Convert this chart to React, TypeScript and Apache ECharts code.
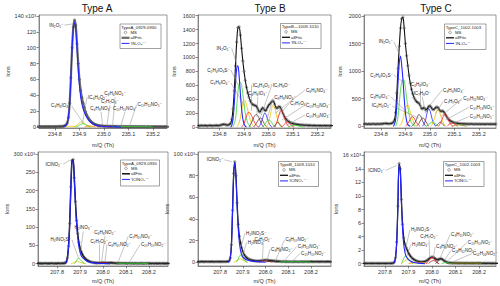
import React, { useEffect, useRef } from "react";
import * as echarts from "echarts";

const FONT = "'Liberation Sans', Arial, 'DejaVu Sans', sans-serif";
const BLUE = "#2424ff";
const GREEN = "#2fd62f";
const YELLOW = "#f2c200";
const RED = "#ff2020";
const ORANGE = "#ff8a00";
const DARK = "#3a3a3a";
const BROWN = "#8a2a2a";
const OLIVE = "#8c8c00";

// m/Q sampling of the measured spectra (Th)
const MZ_STEP = 0.005;
const TOP_START = 234.71;
const BOT_START = 207.7;

// ---------- measured spectra (MS), one value per m/Q sample ----------
const topA_ms = [
  0.4,0.5,0.3,0.4,0.5,0.3,0.4,0.5,0.4,0.3,
  0.5,0.4,0.4,0.5,0.3,0.4,0.5,0.4,0.4,0.5,
  0.6,0.5,0.7,0.6,0.8,1.0,1.5,2.5,5,12,
  30,62,100,126,135,128,105,80,60,46,
  37,30,24,19,15,12,9.5,7.5,6,4.8,
  3.8,3,2.5,2,1.7,1.5,1.3,1.2,1.1,1.0,
  0.9,0.9,0.8,0.8,0.7,0.8,0.7,0.6,0.7,0.6,
  0.6,0.5,0.6,0.5,0.5,0.6,0.5,0.4,0.5,0.4,
  0.5,0.4,0.4,0.5,0.4,0.3,0.4,0.4,0.3,0.4,
  0.3,0.4,0.3,0.3,0.4,0.3,0.3,0.4,0.3,0.3,
  0.4,0.3,0.3,0.3,0.4,0.3,0.3,0.3,0.4,0.3,
  0.3,0.3,0.3,
];
const topB_ms = [
  18,22,15,25,20,18,24,20,16,22,
  25,20,18,22,20,25,22,20,24,28,
  32,38,40,32,28,30,35,55,110,260,
  520,880,1220,1430,1440,1320,1130,950,800,670,
  570,490,430,380,345,325,315,310,300,270,
  230,215,250,275,265,235,240,280,310,330,
  350,375,370,330,280,270,290,295,270,230,
  185,150,120,100,85,72,62,55,50,45,
  42,38,36,34,30,32,28,27,25,28,
  24,22,25,22,20,24,21,20,22,19,
  21,20,18,22,20,19,21,18,20,19,
  21,18,20,
];
const topC_ms = [
  40,45,35,42,38,45,40,36,44,40,
  38,42,45,40,38,44,42,40,45,42,
  48,50,55,48,45,48,50,55,70,110,
  250,600,1050,1450,1780,1950,1980,1780,1500,1280,
  1100,920,780,670,590,525,480,450,430,420,
  380,330,315,340,320,290,320,360,370,345,
  310,300,320,345,350,330,290,270,280,270,
  240,200,165,135,110,95,82,72,65,60,
  56,52,50,48,46,44,45,42,44,40,
  42,40,44,40,38,42,40,38,42,40,
  38,41,40,37,40,42,38,40,41,38,
  40,39,40,
];
const botA_ms = [
  0.8,0.9,0.7,0.8,1.0,0.8,0.9,0.7,0.8,0.9,
  1.0,0.8,0.7,0.9,0.8,1.0,0.9,0.8,0.7,0.9,
  0.8,1.0,0.9,0.8,0.9,1.0,1.2,2,5,16,
  48,110,210,282,285,235,170,118,82,58,
  43,33,26,20,16,12.5,10,8,6.5,5.2,
  4.3,3.6,3.1,2.7,2.4,2.2,2.2,2.4,2.6,2.8,
  2.9,2.8,2.6,2.3,2.2,2.3,2.5,2.6,2.4,2.0,
  1.7,1.5,1.3,1.2,1.1,1.0,1.0,0.9,1.1,0.9,
  1.0,0.8,0.9,1.0,0.8,0.9,0.9,0.8,1.0,0.9,
  0.8,0.9,0.8,1.0,0.9,0.8,0.8,0.9,0.8,1.0,
  0.8,0.9,0.8,0.9,0.8,0.7,0.9,0.8,0.8,0.9,
  0.7,0.8,0.9,0.8,0.7,0.8,0.9,0.8,0.8,
];
const botB_ms = [
  0.5,0.6,0.4,0.5,0.6,0.5,0.4,0.6,0.5,0.5,
  0.6,0.4,0.5,0.6,0.5,0.4,0.5,0.6,0.5,0.5,
  0.4,0.6,0.5,0.5,0.6,0.5,0.6,0.7,1.2,4,
  16,48,82,93,80,55,35,24,18,13.5,
  10,7.5,5.8,4.6,3.7,3.0,2.5,2.1,1.8,1.6,
  1.4,1.3,1.2,1.1,1.1,1.2,1.3,1.5,1.7,1.8,
  1.9,1.9,1.8,1.6,1.5,1.5,1.4,1.3,1.1,1.0,
  0.9,0.8,0.7,0.7,0.6,0.6,0.7,0.5,0.6,0.5,
  0.6,0.5,0.5,0.6,0.4,0.5,0.6,0.5,0.5,0.4,
  0.5,0.6,0.5,0.4,0.5,0.5,0.6,0.5,0.4,0.5,
  0.5,0.6,0.4,0.5,0.5,0.6,0.5,0.4,0.5,0.5,
  0.6,0.5,0.4,0.5,0.5,0.6,0.5,0.4,0.5,
];
const botC_ms = [
  0.05,0.06,0.04,0.05,0.06,0.05,0.04,0.05,0.06,0.05,
  0.05,0.04,0.06,0.05,0.05,0.04,0.06,0.05,0.05,0.06,
  0.04,0.05,0.05,0.06,0.05,0.06,0.07,0.1,0.25,0.9,
  3.2,8.5,14.8,14.0,9.5,5.8,3.8,2.9,2.4,2.0,
  1.6,1.3,1.05,0.85,0.7,0.58,0.48,0.4,0.34,0.3,
  0.28,0.27,0.28,0.3,0.34,0.4,0.5,0.65,0.8,0.92,
  0.98,0.95,0.85,0.7,0.6,0.6,0.68,0.74,0.72,0.62,
  0.48,0.36,0.27,0.2,0.16,0.13,0.11,0.09,0.1,0.08,
  0.09,0.08,0.1,0.07,0.08,0.09,0.07,0.08,0.06,0.08,
  0.07,0.08,0.06,0.07,0.08,0.06,0.07,0.06,0.08,0.07,
  0.06,0.07,0.06,0.05,0.07,0.06,0.05,0.06,0.07,0.05,
  0.06,0.05,0.06,0.05,0.06,0.05,0.05,0.06,0.05,
];

// ---------- main fitted peaks (blue) [m/Q, ions] ----------
const topA_main = [[234.835,0],[234.84,1.2],[234.845,2.3],[234.85,4.8],[234.855,11.7],[234.86,29.5],[234.865,61],[234.87,99],[234.875,124],[234.88,132],[234.885,123],[234.89,99],[234.895,73],[234.9,52],[234.905,38],[234.91,29],[234.915,23],[234.92,18.5],[234.925,15],[234.93,12],[234.94,7.8],[234.95,5],[234.96,3.2],[234.97,2],[234.98,1.3],[234.99,0.9],[235.01,0.5],[235.04,0.2],[235.07,0]];
const topB_main = [[234.845,0],[234.85,25],[234.855,120],[234.86,330],[234.865,620],[234.87,840],[234.875,880],[234.88,730],[234.885,480],[234.89,260],[234.895,115],[234.9,45],[234.905,12],[234.91,0]];
const topC_main = [[234.85,0],[234.855,30],[234.86,120],[234.865,380],[234.87,800],[234.875,1150],[234.88,1270],[234.885,1100],[234.89,850],[234.895,520],[234.9,250],[234.905,100],[234.91,30],[234.92,0]];
const botA_main = [[207.835,0],[207.84,4],[207.845,15],[207.85,47],[207.855,108],[207.86,207],[207.865,278],[207.87,280],[207.875,229],[207.88,163],[207.885,110],[207.89,72],[207.895,47],[207.9,32],[207.905,23],[207.91,17],[207.92,11],[207.93,7],[207.94,4.5],[207.95,3],[207.97,1.5],[208.0,0.5],[208.03,0]];
const botB_main = [[207.835,0],[207.84,1],[207.845,3.8],[207.85,15.5],[207.855,47],[207.86,81],[207.865,92],[207.87,78],[207.875,52],[207.88,31],[207.885,18],[207.89,11],[207.895,7],[207.9,5],[207.91,3],[207.92,2],[207.94,1],[207.97,0.4],[208.0,0]];
const botC_main = [[207.835,0],[207.84,0.22],[207.845,0.85],[207.85,3.1],[207.855,8.4],[207.86,14.6],[207.865,13.6],[207.87,9],[207.875,5.1],[207.88,2.8],[207.885,1.7],[207.89,1.1],[207.9,0.6],[207.91,0.35],[207.92,0.2],[207.94,0.08],[207.97,0]];

// ---------- other fitted components [m/Q, ions] ----------
const topA_comps = [
  [[234.875,0],[234.885,1.2],[234.895,3.8],[234.905,6.2],[234.91,6.5],[234.92,4.6],[234.93,2],[234.94,0.6],[234.95,0]],
  [[234.885,0],[234.895,1.2],[234.905,3.2],[234.915,4.2],[234.925,2.8],[234.935,1],[234.945,0]],
  [[234.92,0],[234.93,0.9],[234.94,1.6],[234.95,1.0],[234.96,0.3],[234.965,0]],
  [[234.975,0],[234.99,0.7],[235.005,0.9],[235.02,0.4],[235.035,0]],
  [[235.035,0],[235.05,0.5],[235.08,0.6],[235.12,0.55],[235.16,0.45],[235.185,0.2],[235.2,0]],
  [[234.845,0],[234.855,0.6],[234.865,1.0],[234.875,0.6],[234.885,0]],
];
const topA_colors = [YELLOW, GREEN, ORANGE, RED, GREEN, YELLOW];

const topB_comps = [
  [[234.855,0],[234.865,120],[234.87,300],[234.875,500],[234.88,620],[234.885,640],[234.89,600],[234.895,470],[234.9,330],[234.905,200],[234.915,60],[234.925,10],[234.93,0]],
  [[234.87,0],[234.88,60],[234.89,230],[234.9,380],[234.905,375],[234.91,320],[234.92,170],[234.93,60],[234.94,0]],
  [[234.89,0],[234.9,50],[234.91,160],[234.918,210],[234.925,200],[234.935,130],[234.945,50],[234.955,10],[234.96,0]],
  [[234.92,0],[234.93,60],[234.94,140],[234.95,180],[234.96,140],[234.97,50],[234.98,0]],
  [[234.94,0],[234.95,50],[234.96,110],[234.968,130],[234.975,100],[234.985,30],[234.995,0]],
  [[234.96,0],[234.97,60],[234.978,150],[234.985,200],[234.992,160],[235.0,70],[235.01,10],[235.015,0]],
  [[234.975,0],[234.985,40],[234.995,90],[235.003,100],[235.012,70],[235.02,25],[235.03,0]],
  [[234.99,0],[235.0,60],[235.01,220],[235.018,310],[235.025,280],[235.035,130],[235.045,30],[235.05,0]],
  [[235.02,0],[235.03,40],[235.038,70],[235.046,40],[235.055,0]],
  [[235.025,0],[235.035,80],[235.045,200],[235.052,240],[235.06,190],[235.07,80],[235.08,15],[235.085,0]],
  [[235.055,0],[235.065,40],[235.075,75],[235.085,50],[235.095,15],[235.105,0]],
  [[235.08,0],[235.095,20],[235.11,25],[235.125,12],[235.14,0]],
];
const topB_colors = [GREEN, YELLOW, RED, DARK, BROWN, BLUE, GREEN, YELLOW, DARK, RED, RED, GREEN];

const topC_comps = [
  [[234.86,0],[234.865,60],[234.87,180],[234.875,420],[234.88,650],[234.885,800],[234.89,850],[234.895,820],[234.9,700],[234.905,520],[234.91,350],[234.92,120],[234.93,30],[234.94,0]],
  [[234.875,0],[234.885,60],[234.895,220],[234.905,380],[234.91,390],[234.915,340],[234.925,180],[234.935,60],[234.945,0]],
  [[234.9,0],[234.91,50],[234.92,130],[234.928,175],[234.935,150],[234.945,70],[234.955,15],[234.96,0]],
  [[234.925,0],[234.935,40],[234.945,120],[234.955,210],[234.962,190],[234.97,100],[234.98,20],[234.985,0]],
  [[234.945,0],[234.955,50],[234.965,130],[234.972,150],[234.98,110],[234.99,40],[234.995,0]],
  [[234.97,0],[234.98,80],[234.988,230],[234.995,320],[235.002,260],[235.01,120],[235.02,20],[235.025,0]],
  [[234.985,0],[234.995,30],[235.005,70],[235.012,80],[235.02,55],[235.03,15],[235.035,0]],
  [[235.005,0],[235.015,90],[235.025,240],[235.032,300],[235.04,250],[235.05,110],[235.06,20],[235.065,0]],
  [[235.025,0],[235.035,50],[235.043,80],[235.05,50],[235.06,0]],
  [[235.035,0],[235.045,70],[235.055,180],[235.062,230],[235.07,180],[235.08,70],[235.09,10],[235.095,0]],
  [[235.07,0],[235.08,40],[235.09,60],[235.1,40],[235.11,10],[235.115,0]],
  [[235.09,0],[235.105,20],[235.12,25],[235.135,15],[235.15,0]],
];
const topC_colors = [GREEN, YELLOW, RED, DARK, BROWN, BLUE, GREEN, YELLOW, DARK, RED, RED, OLIVE];

const botA_comps = [
  [[207.86,0],[207.87,2],[207.88,5],[207.89,6],[207.9,4],[207.91,1.5],[207.92,0]],
  [[207.875,0],[207.882,5],[207.888,12],[207.893,15],[207.9,12],[207.908,6],[207.918,1.5],[207.925,0]],
  [[207.97,0],[207.985,1.2],[208.0,2.0],[208.015,1.2],[208.03,0]],
  [[208.01,0],[208.025,1.2],[208.035,1.6],[208.045,1.0],[208.06,0]],
  [[208.06,0],[208.08,0.8],[208.12,1.0],[208.16,0.8],[208.19,0.4],[208.2,0]],
];
const botA_colors = [YELLOW, GREEN, RED, DARK, GREEN];

const botB_comps = [
  [[207.86,0],[207.87,1],[207.88,2.5],[207.89,3],[207.9,2],[207.91,0.7],[207.92,0]],
  [[207.87,0],[207.878,2],[207.885,5.5],[207.89,6.5],[207.897,5],[207.905,2.2],[207.915,0.5],[207.922,0]],
  [[207.97,0],[207.985,0.8],[208.0,1.3],[208.015,0.8],[208.03,0]],
  [[208.0,0],[208.01,0.7],[208.02,0.9],[208.035,0.6],[208.05,0]],
  [[208.06,0],[208.08,0.4],[208.12,0.5],[208.16,0.4],[208.2,0]],
];
const botB_colors = [YELLOW, GREEN, RED, DARK, GREEN];

const botC_comps = [
  [[207.87,0],[207.88,0.3],[207.89,0.55],[207.9,0.6],[207.91,0.4],[207.92,0.15],[207.93,0]],
  [[207.87,0],[207.877,0.5],[207.883,1.0],[207.888,1.15],[207.895,0.9],[207.905,0.4],[207.915,0.1],[207.92,0]],
  [[207.9,0],[207.92,0.15],[207.94,0.2],[207.96,0.15],[207.98,0]],
  [[207.975,0],[207.985,0.4],[207.995,0.85],[208.0,0.9],[208.008,0.7],[208.02,0.2],[208.03,0]],
  [[207.985,0],[207.995,0.3],[208.005,0.45],[208.015,0.35],[208.025,0.1],[208.03,0]],
  [[208.015,0],[208.025,0.35],[208.035,0.65],[208.042,0.7],[208.05,0.5],[208.06,0.2],[208.07,0]],
  [[208.04,0],[208.05,0.12],[208.06,0.18],[208.07,0.12],[208.08,0]],
  [[208.08,0],[208.1,0.08],[208.15,0.1],[208.19,0.06],[208.21,0]],
];
const botC_colors = [YELLOW, GREEN, ORANGE, RED, BROWN, DARK, GREEN, OLIVE];

// ---------- peak annotations: [label, labelX, labelY, peakX, peakY, side] ----------
const topA_ann = [
  ["IN₂O₅⁻", 234.839, 128.6, 234.872, 130, "left"],
  ["C₃H₈IO₄⁻", 234.868, 26.5, 234.916, 4.7, "left"],
  ["IC₆H₄O₂⁻", 234.931, 37.8, 234.913, 5.4, "right"],
  ["C₄H₈NO₃⁻", 234.988, 19.3, 234.995, 0.4, "top"],
  ["C₇H₇O₃⁻", 235.024, 27.7, 235.011, 0.4, "top"],
  ["C₈H₆NO₄⁻", 235.045, 37.5, 235.035, 0.4, "top"],
  ["C₁₀H₁₁NO₃⁻", 235.086, 19.3, 235.068, 0.4, "top"],
  ["C₁₀H₁₁NO₅⁻", 235.133, 28.1, 235.103, 0.4, "right"],
];
const topB_ann = [
  ["IN₂O₅⁻", 234.85, 1131, 234.871, 891, "left"],
  ["C₂H₄IO₃S⁻", 234.846, 819, 234.876, 603, "left"],
  ["C₃H₈IO₄⁻", 234.846, 636, 234.904, 292, "left"],
  ["IC₆H₄O₂⁻", 234.931, 603, 234.931, 230, "right"],
  ["IC₇H₈O⁻", 235.013, 603, 234.968, 148, "right"],
  ["C₄H₈IO₃⁻", 234.956, 435, 234.952, 148, "top"],
  ["C₈H₈NO₄⁻", 235.019, 420, 234.993, 100, "right"],
  ["C₈H₆NO₄⁻", 235.149, 532, 235.027, 197, "right"],
  ["C₇H₇O₃⁻", 235.085, 340, 235.036, 148, "right"],
  ["C₁₀H₁₁NO₃⁻", 235.149, 316, 235.054, 100, "right"],
  ["C₁₀H₁₃NO₃⁻", 235.149, 172, 235.074, 29, "right"],
];
const topC_ann = [
  ["IN₂O₅⁻", 234.853, 1533, 234.88, 1261, "left"],
  ["C₂H₄IO₃S⁻", 234.853, 929, 234.89, 808, "left"],
  ["C₃H₈IO₄⁻", 234.84, 536, 234.911, 236, "left"],
  ["IC₆H₄O₂⁻", 234.846, 368, 234.955, 145, "left"],
  ["C₄H₈IO₃⁻", 234.962, 688, 234.962, 326, "top"],
  ["IC₇H₈O⁻", 234.969, 536, 234.982, 236, "top"],
  ["C₈H₆NO₄⁻", 235.05, 658, 234.996, 355, "right"],
  ["C₇H₇O₃⁻", 235.054, 446, 235.023, 236, "right"],
  ["C₁₀H₁₁NO₃⁻", 235.132, 507, 235.044, 174, "right"],
  ["C₁₀H₁₃NO₃⁻", 235.159, 344, 235.064, 114, "right"],
  ["C₁₀H₁₁NO₅⁻", 235.159, 174, 235.085, 36, "right"],
];
const botA_ann = [
  ["IClNO₂⁻", 207.827, 272, 207.857, 284, "left"],
  ["H₂INO₂S⁻", 207.865, 65, 207.893, 15.6, "left"],
  ["H₂INO₃⁻", 207.914, 88.5, 207.9, 20, "top"],
  ["C₇H₇O₂⁻", 207.984, 52, 207.984, 6.5, "top"],
  ["C₈H₈NO₂⁻", 208.009, 76.5, 207.994, 6.5, "top"],
  ["C₈H₁₀NO₂⁻", 208.017, 52, 208.009, 6.5, "right"],
  ["C₇H₁₀NO₃⁻", 208.11, 75, 208.067, 6.5, "right"],
  ["C₁₀H₁₀NO₂⁻", 208.161, 52, 208.117, 6.5, "right"],
];
const botB_ann = [
  ["IClNO₂⁻", 207.819, 94.7, 207.851, 93, "left"],
  ["H₂INO₂S⁻", 207.91, 26.9, 207.888, 11.4, "right"],
  ["H₂INO₃⁻", 207.917, 18.2, 207.898, 5.3, "right"],
  ["C₇H₇O₂⁻", 207.99, 18.2, 207.986, 0.6, "top"],
  ["C₈H₈NO₂⁻", 208.02, 12, 208.005, 0.6, "right"],
  ["C₈H₁₀NO₂⁻", 208.083, 20.6, 208.042, 0.6, "right"],
  ["C₇H₁₀NO₃⁻", 208.137, 14.5, 208.078, 0.3, "right"],
  ["C₁₀H₁₀NO₂⁻", 208.152, 8.3, 208.115, 0.3, "right"],
];
const botC_ann = [
  ["IClNO₂⁻", 207.804, 13.8, 207.85, 14.5, "left"],
  ["H₂INO₂S⁻", 207.906, 5.0, 207.885, 1.8, "right"],
  ["H₂INO₃⁻", 207.911, 2.9, 207.892, 1.0, "right"],
  ["C₇H₇O₂⁻", 207.987, 3.5, 207.991, 0.8, "top"],
  ["C₈H₈NO₂⁻", 208.013, 2.5, 208.006, 0.8, "right"],
  ["C₈H₁₀NO₂⁻", 208.077, 4.3, 208.034, 0.8, "right"],
  ["C₁₀H₁₀NO₂⁻", 208.148, 3.1, 208.069, 0.5, "right"],
  ["C₁₁H₁₂NO₂⁻", 208.08, 1.9, 208.052, 0.5, "right"],
  ["C₁₂H₁₆NO₂⁻", 208.17, 1.5, 208.091, 0.3, "right"],
];

// ---------- axes ----------
const xTicksTop = [234.8, 234.9, 235.0, 235.1, 235.2];
const xTicksBot = [207.8, 207.9, 208.0, 208.1, 208.2];
const yTicksTopA = [0, 20, 40, 60, 80, 100, 120, 140];
const yTicksTopB = [0, 200, 400, 600, 800, 1000, 1200, 1400, 1600];
const yTicksTopC = [0, 500, 1000, 1500, 2000];
const yTicksBotA = [0, 50, 100, 150, 200, 250, 300];
const yTicksBotB = [0, 20, 40, 60, 80, 100];
const yTicksBotC = [0, 2, 4, 6, 8, 10, 12, 14, 16];

const titles = ["Type A", "Type B", "Type C"];
const legendTitles = ["TypeA_0929-0930", "TypeB—1009-1010", "TypeC_1002-1003", "TypeA_0929-0930", "TypeB_1009-1010", "TypeC_1002-1003"];
const mainNames = ["'IN₂O₅⁻'", "'IN₂O₅⁻'", "'IN₂O₅⁻'", "'IClNO₂⁻'", "'IClNO₂⁻'", "'IClNO₂⁻'"];

const panels = [
  { start: TOP_START, ms: topA_ms, main: topA_main, comps: topA_comps, colors: topA_colors, ann: topA_ann, xt: xTicksTop, yt: yTicksTopA, exp: true, fit: "#6c6c6c", fitW: 2.2 },
  { start: TOP_START, ms: topB_ms, main: topB_main, comps: topB_comps, colors: topB_colors, ann: topB_ann, xt: xTicksTop, yt: yTicksTopB, exp: false, fit: "#111", fitW: 1.1 },
  { start: TOP_START, ms: topC_ms, main: topC_main, comps: topC_comps, colors: topC_colors, ann: topC_ann, xt: xTicksTop, yt: yTicksTopC, exp: false, fit: "#111", fitW: 1.1 },
  { start: BOT_START, ms: botA_ms, main: botA_main, comps: botA_comps, colors: botA_colors, ann: botA_ann, xt: xTicksBot, yt: yTicksBotA, exp: true, fit: "#111", fitW: 1.5 },
  { start: BOT_START, ms: botB_ms, main: botB_main, comps: botB_comps, colors: botB_colors, ann: botB_ann, xt: xTicksBot, yt: yTicksBotB, exp: true, fit: "#111", fitW: 1.3 },
  { start: BOT_START, ms: botC_ms, main: botC_main, comps: botC_comps, colors: botC_colors, ann: botC_ann, xt: xTicksBot, yt: yTicksBotC, exp: true, fit: "#111", fitW: 1.3 },
];

// layout (pixels)
const GRIDS = [
  { left: 39, top: 15, width: 128, height: 113 },
  { left: 198, top: 15, width: 133, height: 113 },
  { left: 364, top: 15, width: 132, height: 113 },
  { left: 38, top: 152, width: 130, height: 114 },
  { left: 198, top: 152, width: 133, height: 114 },
  { left: 364, top: 152, width: 132, height: 114 },
];
const X_RANGE = [[234.735, 235.257], [234.712, 235.255], [234.731, 235.27], [207.717, 208.283], [207.703, 208.288], [207.711, 208.272]];
const Y_RANGE = [[-1.3, 141.3], [-14, 1610], [-31, 2018], [-6.3, 305.5], [-3.5, 101.9], [-0.34, 16.49]];
const Y_NAMEGAP = [28, 21, 21, 28, 21, 21];
const X_NAMEGAP = [14, 14, 14, 12, 12, 12];
const TITLE_POS = [[97, 8], [270, 8], [436, 8]];
const LEGEND_BOX = [
  [120, 24, 41, 24.5], [280.5, 23.5, 40.5, 25], [444.5, 24, 41.5, 25.5],
  [120.5, 160, 39, 26], [278.5, 161.5, 40, 25], [443.5, 161.5, 40.5, 25],
];

function legendGraphic(i: number) {
  const [x, y, w, h] = LEGEND_BOX[i];
  const p = panels[i];
  const txt = (t: string, tx: number, ty: number) => ({
    type: "text", x: tx, y: ty,
    style: { text: t, fontSize: 4.3, fill: "#222", verticalAlign: "middle", fontFamily: FONT },
  });
  return {
    type: "group", x, y, z: 100,
    children: [
      { type: "rect", shape: { x: 0, y: 0, width: w, height: h }, style: { fill: "#fff", stroke: "#444", lineWidth: 0.5 } },
      txt(legendTitles[i], 1.2, 3),
      { type: "circle", shape: { cx: 5.5, cy: 8.4, r: 1.3 }, style: { fill: "none", stroke: "#444", lineWidth: 0.5 } },
      txt("MS", 10.5, 8.4),
      { type: "line", shape: { x1: 1.5, y1: 13.8, x2: 9.5, y2: 13.8 }, style: { stroke: p.fit, lineWidth: Math.max(1.3, p.fitW) } },
      txt("allFits", 10.5, 13.8),
      { type: "line", shape: { x1: 1.5, y1: 19.4, x2: 9.5, y2: 19.4 }, style: { stroke: BLUE, lineWidth: 1 } },
      txt(mainNames[i], 10.5, 19.4),
    ],
  };
}

function buildOption() {
  const grid: any[] = [];
  const xAxis: any[] = [];
  const yAxis: any[] = [];
  const series: any[] = [];
  const axisText = { fontSize: 5.5, color: "#333", fontFamily: FONT };

  panels.forEach((p, i) => {
    grid.push({ ...GRIDS[i], show: true, borderColor: "#555", borderWidth: 0.6, backgroundColor: "transparent" });
    xAxis.push({
      gridIndex: i, type: "value", min: X_RANGE[i][0], max: X_RANGE[i][1],
      name: "m/Q (Th)", nameLocation: "middle", nameGap: X_NAMEGAP[i], nameTextStyle: axisText,
      axisLine: { show: true, onZero: false, lineStyle: { color: "#555", width: 0.6 } },
      axisTick: { show: true, inside: false, length: 2.5, customValues: p.xt, lineStyle: { color: "#444", width: 0.6 } },
      axisLabel: { ...axisText, margin: 3, customValues: p.xt, formatter: (v: number) => v.toFixed(1) },
      splitLine: { show: false },
    });
    const top = p.yt[p.yt.length - 1];
    yAxis.push({
      gridIndex: i, type: "value", min: Y_RANGE[i][0], max: Y_RANGE[i][1],
      name: "Ions", nameLocation: "middle", nameGap: Y_NAMEGAP[i], nameTextStyle: axisText,
      axisLine: { show: true, onZero: false, lineStyle: { color: "#555", width: 0.6 } },
      axisTick: { show: true, inside: false, length: 2.5, customValues: p.yt, lineStyle: { color: "#444", width: 0.6 } },
      axisLabel: {
        ...axisText, margin: 3, customValues: p.yt,
        formatter: (v: number) => (p.exp && v === top ? `${v} x10³` : `${v}`),
      },
      splitLine: { show: false },
    });

    const msData = p.ms.map((v: number, k: number) => [Math.round((p.start + k * MZ_STEP) * 1000) / 1000, v]);
    const common = { xAxisIndex: i, yAxisIndex: i, silent: true, animation: false };

    series.push({
      ...common, type: "line", name: "allFits", data: msData, symbol: "none", smooth: 0.3,
      lineStyle: { color: p.fit, width: p.fitW }, z: 2,
    });
    series.push({
      ...common, type: "line", name: "MS", data: msData, symbol: "circle", symbolSize: 2.4,
      itemStyle: { color: "rgba(255,255,255,0)", borderColor: "#3a3a3a", borderWidth: 0.45 },
      lineStyle: { width: 0, opacity: 0 }, z: 3,
      markLine: {
        silent: true, animation: false, symbol: ["none", "none"], label: { show: false },
        lineStyle: { color: "#8a8a8a", width: 0.5, type: "solid" },
        emphasis: { disabled: true },
        data: p.ann.map((a: any[]) => [{ coord: [a[1], a[2]] }, { coord: [a[3], a[4]] }]),
      },
      markPoint: {
        silent: true, animation: false, symbol: "circle", symbolSize: 0,
        itemStyle: { color: "rgba(0,0,0,0)" },
        data: p.ann.map((a: any[]) => ({
          coord: [a[1], a[2]],
          label: { show: true, formatter: a[0], position: a[5], distance: 1, fontSize: 4.6, color: "#222", fontFamily: FONT },
        })),
      },
    });
    p.comps.forEach((d: number[][], k: number) => {
      series.push({
        ...common, type: "line", name: "comp", data: d, symbol: "none", smooth: 0.4,
        lineStyle: { color: p.colors[k], width: 0.8 }, z: 4,
      });
    });
    series.push({
      ...common, type: "line", name: mainNames[i], data: p.main, symbol: "none", smooth: 0.35,
      lineStyle: { color: BLUE, width: 1.1 }, z: 5,
    });
  });

  const graphic: any[] = [];
  titles.forEach((t, k) => {
    graphic.push({
      type: "text", x: TITLE_POS[k][0], y: TITLE_POS[k][1], z: 100,
      style: { text: t, fontSize: 10, fill: "#111", align: "center", verticalAlign: "middle", fontFamily: FONT },
    });
  });
  panels.forEach((_, i) => graphic.push(legendGraphic(i)));

  return {
    animation: false,
    backgroundColor: "#fff",
    textStyle: { fontFamily: FONT },
    grid, xAxis, yAxis, series, graphic,
  };
}

export default function App() {
  const ref = useRef<HTMLDivElement>(null);
  useEffect(() => {
    const chart = echarts.init(ref.current!, null, { renderer: "svg" });
    chart.setOption(buildOption() as any);
    return () => chart.dispose();
  }, []);
  return (
    <div
      ref={ref}
      style={{ position: "fixed", left: 0, top: 0, width: 500, height: 286, background: "#fff" }}
    />
  );
}
